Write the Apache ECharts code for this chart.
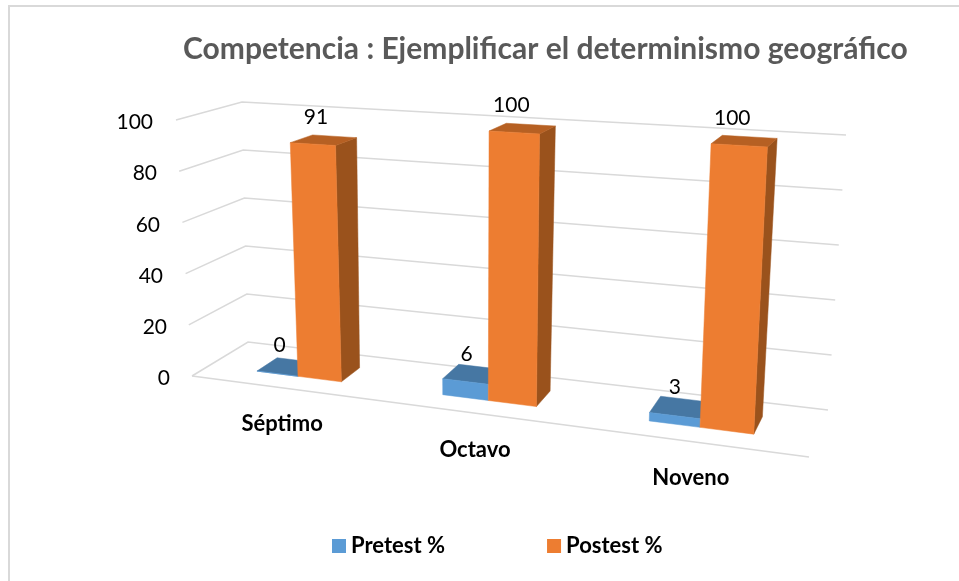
<!DOCTYPE html>
<html><head><meta charset="utf-8">
<style>html,body{margin:0;padding:0;background:#fff}#c{width:959px;height:581px}</style>
<script src="https://cdn.jsdelivr.net/npm/echarts@6/dist/echarts.min.js"></script>
</head><body><div id="c"></div>
<script>
const categories = ['Séptimo', 'Octavo', 'Noveno'];
const pretest = [0, 6, 3];
const postest = [91, 100, 100];
const ticks = [0, 20, 40, 60, 80, 100];

// layout of the hidden plotting grid and its 3D view
const L = 172, T = 120, W = 640, H = 256;
const FL=[192,376],FR=[809,457],BL=[248,342],BR=[828,410];
const FLt=[176,120],FRt=[825,158],BLt=[242,102],BRt=[846,135];
const persp = 0.852, wFront = 0.32, wBack = 0.70, barShare = 0.23;
const mix=(a,b,t)=>[a[0]+(b[0]-a[0])*t,a[1]+(b[1]-a[1])*t];
function project(gx, gy, w){
  const u0=(gx-L)/W, u=persp*u0/(1+(persp-1)*u0), v=(T+H-gy)/H;
  const bot=mix(mix(FL,FR,u),mix(BL,BR,u),w), top=mix(mix(FLt,FRt,u),mix(BLt,BRt,u),w);
  return mix(bot,top,v);
}
function poly(points, fill, z){
  return {type:'polygon',shape:{points},z2:z,style:{fill,stroke:fill,lineWidth:0.5}};
}
function barRender(colors, side, labelDx, labelDy, showSide){
  return function(params, api){
    const i=api.value(0), val=api.value(1), c=api.coord([i,val]), base=api.coord([i,0]);
    const band=api.size([1,0])[0];
    const x0=side<0?c[0]-barShare*band:c[0], x1=side<0?c[0]:c[0]+(side>0?0.237:0)*band;
    const p=(x,y,w)=>project(x,y,w);
    const ft0=p(x0,c[1],wFront), ft1=p(x1,c[1],wFront), bt0=p(x0,c[1],wBack), bt1=p(x1,c[1],wBack);
    const fb0=p(x0,base[1],wFront), fb1=p(x1,base[1],wFront), bb1=p(x1,base[1],wBack);
    const children=[];
    if(showSide) children.push(poly([ft1,bt1,bb1,fb1],colors.side,1));
    children.push(poly([ft0,ft1,bt1,bt0],colors.top,2));
    children.push(poly([ft0,ft1,fb1,fb0],colors.front,3));
    children.push({type:'text',z2:5,x:(ft0[0]+ft1[0])/2+labelDx[i],y:(bt0[1]+bt1[1])/2+labelDy[i],
      style:{text:String(val),fill:'#000',font:'21px Lato',align:'center',verticalAlign:'middle'}});
    return {type:'group',children};
  };
}
function wallRender(params, api){
  const t=api.value(1), y=api.coord([0,t])[1], xl=L, xr=L+W;
  const pts=[project(xl,y,0),project(xl,y,1),project(xr,y,1)];
  const st={stroke:'#d9d9d9',lineWidth:1.5,fill:null};
  const ch=[{type:'polyline',shape:{points:pts},style:st}];
  if(t===0) ch.push({type:'polyline',shape:{points:[project(xl,y,0),project(xr,y,0)]},style:st});
  return {type:'group',children:ch};
}
const yPad={100:17,80:13,60:10,40:7,20:3,0:0};
const xLab={'Séptimo':[0,0,0,7],'Octavo':[52,34,0,0],'Noveno':[108,29,0,0]};
const yRich={},xRich={};
ticks.forEach(t=>yRich['t'+t]={padding:[5,yPad[t],0,0],color:'#000',fontFamily:'Lato',fontSize:21});
categories.forEach((c,i)=>xRich['c'+i]={padding:xLab[c],color:'#000',fontFamily:'Lato',fontWeight:'bold',fontSize:22,lineHeight:26});

const chart=echarts.init(document.getElementById('c'),null,{renderer:'canvas'});
chart.setOption({
  animation:false,
  backgroundColor:'#fff',
  title:{text:'Competencia : Ejemplificar el determinismo geográfico',left:183,top:34,padding:0,
    textStyle:{fontFamily:'Lato',fontWeight:'bold',fontSize:30,color:'#595959'}},
  legend:{left:332,top:535,padding:0,itemWidth:14,itemHeight:14,itemGap:102,data:['Pretest %','Postest %'],icon:'rect',
    textStyle:{fontFamily:'Lato',fontWeight:'bold',fontSize:22,color:'#000'}},
  grid:{left:L,top:T,width:W,height:H,containLabel:false},
  xAxis:{type:'category',data:categories,axisLine:{show:false},axisTick:{show:false},
    axisLabel:{margin:35,interval:0,formatter:(v)=>`{c${categories.indexOf(v)}|${v}}`,rich:xRich}},
  yAxis:{type:'value',min:0,max:100,interval:20,axisLine:{show:false},axisTick:{show:false},splitLine:{show:false},
    axisLabel:{margin:2,formatter:(v)=>`{t${v}|${v}}`,rich:yRich}},
  graphic:[{type:'polyline',silent:true,z:-1,shape:{points:[[9,581],[9,6],[959,6]]},style:{stroke:'#d9d9d9',lineWidth:2,fill:null}}],
  series:[
    {type:'custom',name:'Rejilla',coordinateSystem:'cartesian2d',clip:false,z:1,silent:true,
     data:ticks.map(t=>[0,t]),encode:{x:0,y:1},renderItem:wallRender},
    {type:'custom',name:'Pretest %',coordinateSystem:'cartesian2d',clip:false,z:2,itemStyle:{color:'#5b9bd5'},
     data:pretest.map((v,i)=>[i,v]),encode:{x:0,y:1},
     renderItem:barRender({front:'#5b9bd5',top:'#4677a3',side:'#3c6a94'},-1,[2,1,0],[-15,-13,-12],false)},
    {type:'custom',name:'Postest %',coordinateSystem:'cartesian2d',clip:false,z:3,itemStyle:{color:'#ed7d31'},
     data:postest.map((v,i)=>[i,v]),encode:{x:0,y:1},
     renderItem:barRender({front:'#ed7d31',top:'#b66023',side:'#9a521c'},1,[3,-3,-7],[-19,-19,-19],true)}
  ]
});
</script></body></html>
